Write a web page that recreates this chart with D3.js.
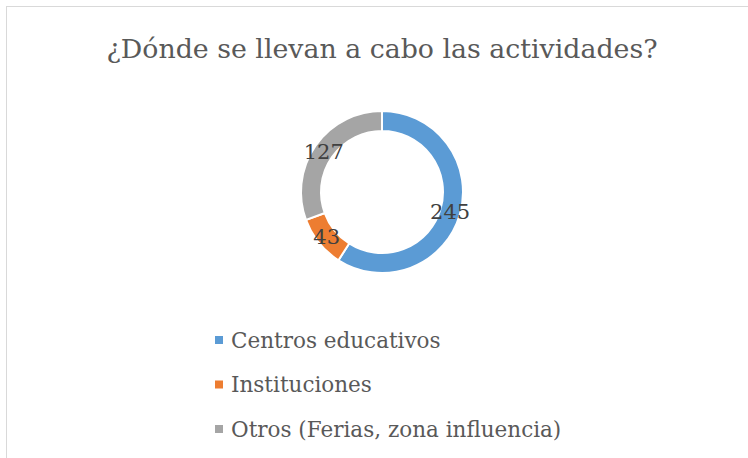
<!DOCTYPE html>
<html>
<head>
<meta charset="utf-8">
<script src="https://cdn.jsdelivr.net/npm/d3@7"></script>
<style>
  body { margin: 0; background: #fff; }
  svg text { font-family: "DejaVu Serif", serif; }
</style>
</head>
<body>
<svg id="chart" width="748" height="458"></svg>
<script>
var categories = ["Centros educativos", "Instituciones", "Otros (Ferias, zona influencia)"];
var values = [245, 43, 127];
var colors = ["#5B9BD5", "#ED7D31", "#A5A5A5"];
var title = "¿Dónde se llevan a cabo las actividades?";

var svg = d3.select("#chart");

// chart frame
svg.append("rect")
  .attr("x", 6.5).attr("y", 6.5)
  .attr("width", 760).attr("height", 470)
  .attr("fill", "#fff")
  .attr("stroke", "#d9d9d9");

svg.append("text")
  .attr("x", 382).attr("y", 58)
  .attr("text-anchor", "middle")
  .attr("font-size", 26.8)
  .attr("fill", "#595959")
  .text(title);

var cx = 382, cy = 192, outerR = 81, innerR = 61;

var pie = d3.pie().sort(null).value(function (d) { return d; });
var arcs = pie(values);
var arc = d3.arc().innerRadius(innerR).outerRadius(outerR);
var labelArc = d3.arc().innerRadius(71).outerRadius(71);

var g = svg.append("g").attr("transform", "translate(" + cx + "," + cy + ")");

g.selectAll("path.slice")
  .data(arcs)
  .enter().append("path")
  .attr("class", "slice")
  .attr("d", arc)
  .attr("fill", function (d, i) { return colors[i]; })
  .attr("stroke", "#fff")
  .attr("stroke-width", 2);

g.selectAll("text.val")
  .data(arcs)
  .enter().append("text")
  .attr("class", "val")
  .attr("transform", function (d) { return "translate(" + labelArc.centroid(d) + ")"; })
  .attr("text-anchor", "middle")
  .attr("dy", "0.35em")
  .attr("font-size", 21)
  .attr("fill", "#404040")
  .text(function (d) { return d.data; });

// legend
var legend = svg.append("g");
var items = legend.selectAll("g")
  .data(categories)
  .enter().append("g")
  .attr("transform", function (d, i) { return "translate(215," + (340 + i * 44.5) + ")"; });

items.append("rect")
  .attr("x", 0).attr("y", -4)
  .attr("width", 8).attr("height", 8)
  .attr("fill", function (d, i) { return colors[i]; });

items.append("text")
  .attr("x", 16).attr("y", 0)
  .attr("dy", "0.35em")
  .attr("font-size", 21.5)
  .attr("fill", "#595959")
  .text(function (d) { return d; });
</script>
</body>
</html>
